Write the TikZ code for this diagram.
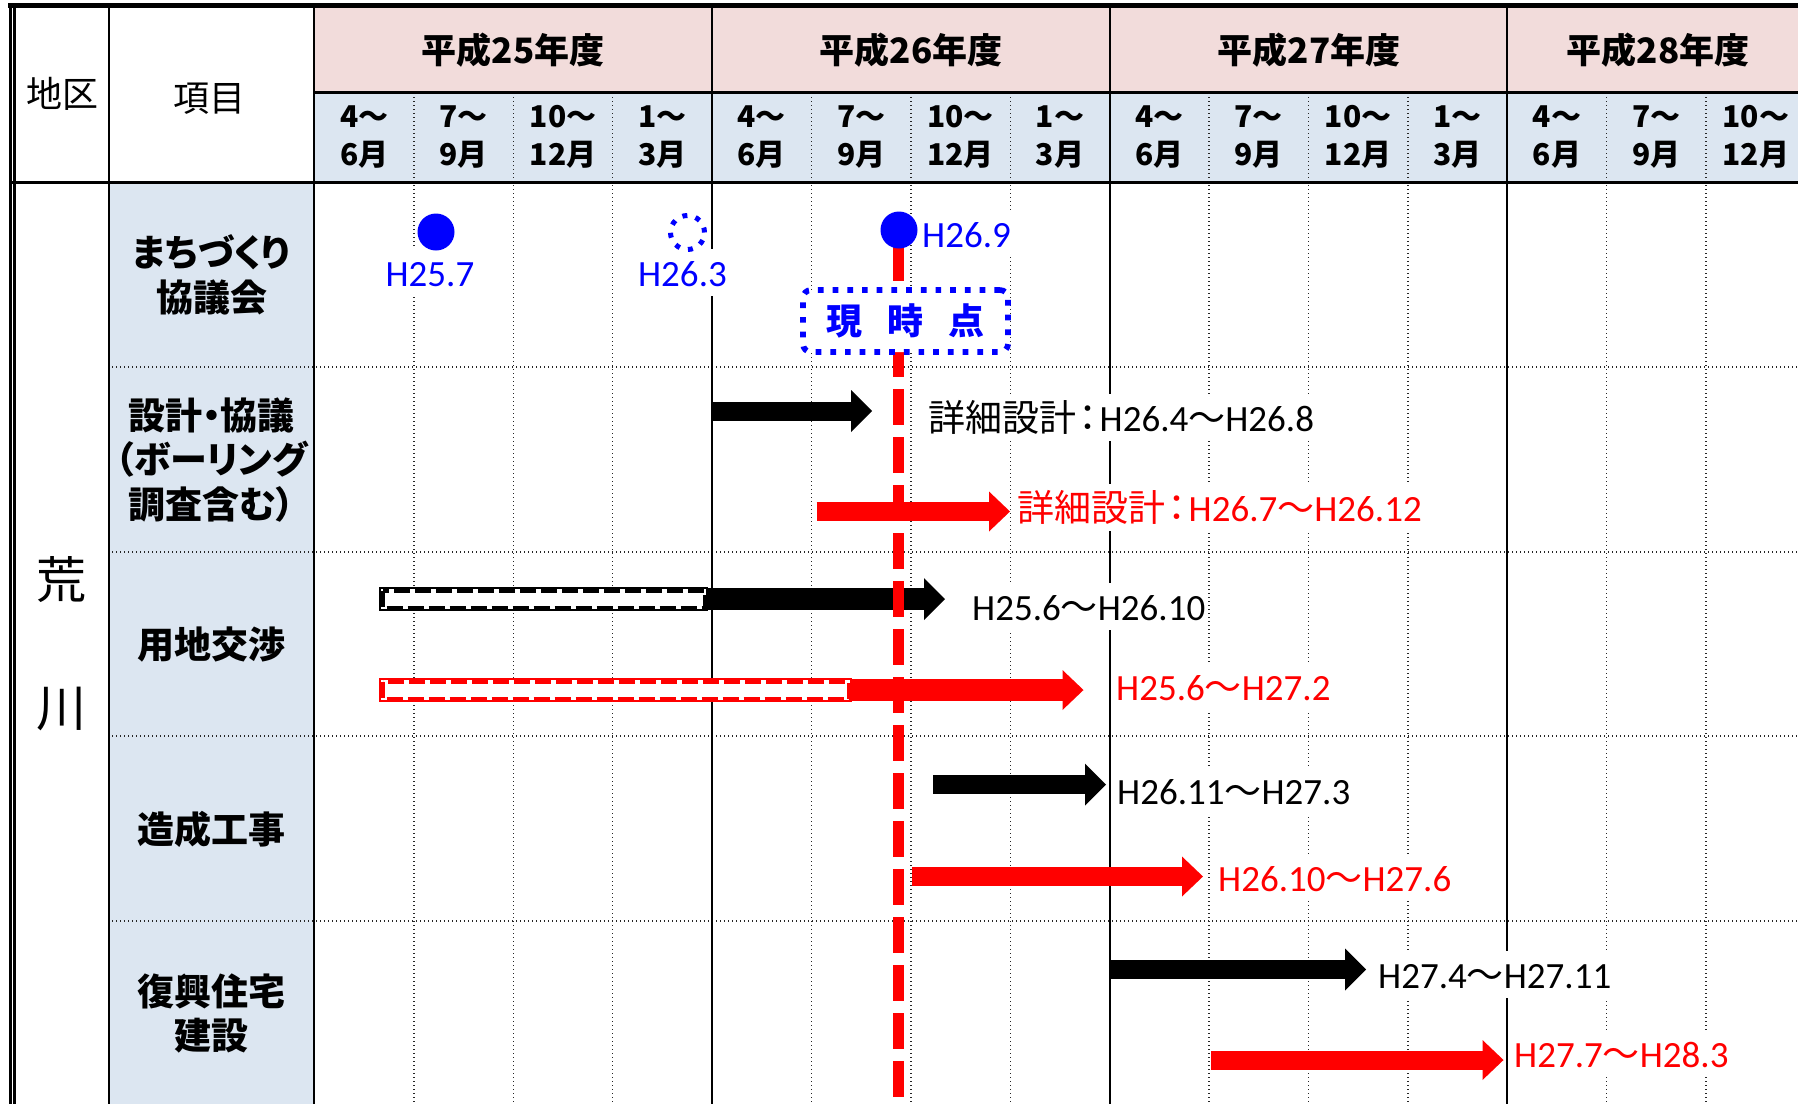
\documentclass[tikz,border=0pt]{standalone}
\usepackage{fontspec}
\setmainfont{Carlito}
\newfontfamily\jp[RawFeature=+palt]{Noto Sans CJK JP}
\usetikzlibrary{arrows.meta}
\definecolor{yearpink}{HTML}{F2DCDB}
\definecolor{cellblue}{HTML}{DCE6F1}
\definecolor{planblue}{HTML}{0000FF}
\definecolor{planred}{HTML}{FF0000}
\tikzstyle{yearhead} = [font=\jp\bfseries\fontsize{35}{40}\selectfont]
\tikzstyle{quarterhead} = [font=\jp\bfseries\fontsize{30}{38.5}\selectfont, align=center]
\tikzstyle{itemhead} = [font=\jp\bfseries\fontsize{37}{44.5}\selectfont, align=center]
\tikzstyle{plainhead} = [font=\jp\fontsize{36}{40}\selectfont]
\tikzstyle{districthead} = [font=\jp\fontsize{50}{55}\selectfont]
\tikzstyle{gridline} = [black!85, line width=1.3pt, dash pattern=on 1.3pt off 2.7pt]
\tikzstyle{solidrule} = [black, line width=2.2pt]
\tikzstyle{held} = [circle, fill=planblue, minimum size=37pt, inner sep=0pt]
\tikzstyle{notheld} = [circle, draw=planblue, line width=5pt, dash pattern=on 5pt off 8.4pt, minimum size=34pt, inner sep=0pt]
\tikzstyle{datelabel} = [font=\fontsize{37}{43}\selectfont, fill=white, text height=27pt, text depth=0pt, inner xsep=3pt, inner ysep=10pt]
\tikzstyle{blackbar} = [black, line width=19pt, -{Triangle[length=21pt,width=42pt,line width=0pt]}]
\tikzstyle{redbar} = [planred, line width=19pt, -{Triangle[length=21pt,width=40pt,line width=0pt]}]
\tikzstyle{hollowframe} = [fill=white, line width=1.5pt]
\tikzstyle{hollowdash} = [line width=4pt, dash pattern=on 16pt off 5pt]
\tikzstyle{nowline} = [planred, line width=11pt, dash pattern=on 36pt off 12pt]
\tikzstyle{nowbox} = [draw=planblue, fill=white, line width=5.7pt, dash pattern=on 5.7pt off 9pt, rounded corners=8pt, minimum width=205pt, minimum height=62pt, text=planblue, font=\jp\bfseries\fontsize{36}{40}\selectfont]

\begin{document}
\begin{tikzpicture}[x=1pt, y=-1pt]
    \useasboundingbox (0,0) rectangle (1798,1104);

    % header and item column fills
    \fill [yearpink] (314,6) rectangle (1798,92);
    \fill [cellblue] (314,92) rectangle (1798,182);
    \fill [cellblue] (109,182) rectangle (314,1104);

    % quarter grid
    \foreach \k in {1,2,3,5,6,7,9,10,11,13,14}
        \draw [gridline] ({314.5+99.4*\k},93) -- ({314.5+99.4*\k},1104);
    \foreach \y in {367,552,736,921}
        \draw [gridline] (112,\y) -- (1798,\y);

    % table rules
    \foreach \k in {4,8,12}
        \draw [solidrule] ({314.5+99.4*\k},6) -- ({314.5+99.4*\k},1104);
    \draw [solidrule] (109,6) -- (109,1104);
    \draw [solidrule] (314,6) -- (314,1104);
    \draw [black, line width=3pt] (314,92) -- (1798,92);
    \draw [black, line width=3pt] (10,182) -- (1798,182);
    \draw [black, line width=5pt] (8,5.5) -- (1798,5.5);
    \draw [black, line width=3pt] (10,3) -- (10,1104);
    \draw [black, line width=2.3pt] (14.5,6) -- (14.5,1104);

    % headers
    \node [plainhead] (chiku) at (62,94) {地区};
    \node [plainhead] (komoku) at (209.5,99) {項目};
    \node [yearhead] (h25) at (513,50) {平成25年度};
    \node [yearhead] (h26) at (911,50) {平成26年度};
    \node [yearhead] (h27) at (1309,50) {平成27年度};
    \node [yearhead] (h28) at (1658,50) {平成28年度};
    \foreach \lbl [count=\i from 0] in {{4〜\\6月},{7〜\\9月},{10〜\\12月},{1〜\\3月},
        {4〜\\6月},{7〜\\9月},{10〜\\12月},{1〜\\3月},
        {4〜\\6月},{7〜\\9月},{10〜\\12月},{1〜\\3月},
        {4〜\\6月},{7〜\\9月},{10〜\\12月}}
        \node [quarterhead] (q\i) at ({314.5+99.4*(\i+0.5)},137) {\lbl};

    % district and items
    \node [districthead] (ara) at (61,580) {荒};
    \node [districthead] (kawa) at (61,709) {川};
    \node [itemhead] (machi) at (211.5,275) {まちづくり\\協議会};
    \node [itemhead] (sekkei) at (211.5,460) {設計・協議\\（ボーリング\\調査含む）};
    \node [itemhead] (yochi) at (211.5,644) {用地交渉};
    \node [itemhead] (zosei) at (211.5,829) {造成工事};
    \node [itemhead] (fukko) at (211.5,1013.5) {復興住宅\\建設};

    % council meetings
    \node [datelabel, text=planblue, anchor=base] (m1lbl) at (430,286) {H25.7};
    \node [datelabel, text=planblue, anchor=base] (m2lbl) at (682.5,286) {H26.3};
    \node [datelabel, text=planblue, anchor=base west] (m3lbl) at (919,247) {H26.9};
    \node [held] (m1) at (436,232) {};
    \node [notheld] (m2) at (687.5,232.5) {};

    % schedule bars (black: previous plan, red: revised plan)
    \draw [blackbar] (712,411) -- (872,411);
    \draw [redbar] (816.5,511.5) -- (1010,511.5);
    \draw [hollowframe, draw=black] (380,588) rectangle (707,610);
    \draw [hollowdash, draw=black] (382.5,590.5) rectangle (704.5,607.5);
    \draw [blackbar, line width=22pt] (707,599) -- (945,599);
    \draw [hollowframe, draw=planred] (380,679) rectangle (851,701);
    \draw [hollowdash, draw=planred] (382.5,681.5) rectangle (848.5,698.5);
    \draw [redbar, line width=22pt] (851,690) -- (1083.5,690);
    \draw [blackbar] (933,784.5) -- (1106,784.5);
    \draw [redbar] (912,876.5) -- (1203,876.5);
    \draw [blackbar] (1110,969.5) -- (1366,969.5);
    \draw [redbar] (1211,1060) -- (1503.5,1060);

    \node [datelabel, anchor=base west] (b1) at (925,431) {{\jp 詳細設計\kern2.5pt：\kern2.5pt}H26.4{\jp 〜}H26.8};
    \node [datelabel, text=planred, anchor=base west] (r1) at (1014,521) {{\jp 詳細設計\kern2.5pt：\kern2.5pt}H26.7{\jp 〜}H26.12};
    \node [datelabel, anchor=base west] (b2) at (969,620) {H25.6{\jp 〜}H26.10};
    \node [datelabel, text=planred, anchor=base west] (r2) at (1113,700) {H25.6{\jp 〜}H27.2};
    \node [datelabel, anchor=base west] (b3) at (1114,804) {H26.11{\jp 〜}H27.3};
    \node [datelabel, text=planred, anchor=base west] (r3) at (1215,891) {H26.10{\jp 〜}H27.6};
    \node [datelabel, anchor=base west] (b4) at (1375,988) {H27.4{\jp 〜}H27.11};
    \node [datelabel, text=planred, anchor=base west] (r4) at (1511,1067) {H27.7{\jp 〜}H28.3};

    % current point
    \draw [nowline] (898.5,245) -- (898.5,1104);
    \node [held] (m3) at (899,230) {};
    \node [nowbox] (genjiten) at (905.5,321) {現\hspace{25pt}時\hspace{25pt}点};
\end{tikzpicture}
\end{document}
